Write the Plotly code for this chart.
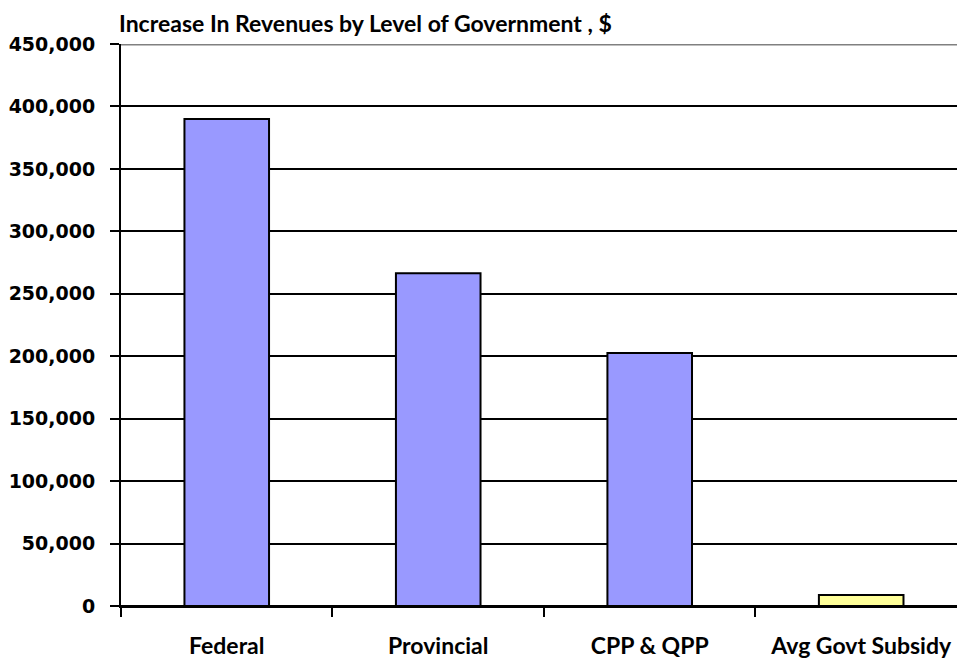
import plotly.graph_objects as go

categories = ["Federal", "Provincial", "CPP & QPP", "Avg Govt Subsidy"]
values = [390000, 266500, 202500, 8800]
colors = ["#9999FF", "#9999FF", "#9999FF", "#FFFF99"]
y_ticks = [0, 50000, 100000, 150000, 200000, 250000, 300000, 350000, 400000, 450000]
y_labels = ["{:,}".format(v) for v in y_ticks]
subtitle = "Increase In Revenues by Level of Government , $"

fig = go.Figure()
fig.add_trace(go.Bar(
    x=categories, y=values, width=0.4,
    marker=dict(color=colors, line=dict(color="black", width=2)),
))

narrow = "Lato, 'Open Sans', sans-serif"

fig.update_layout(
    width=957, height=659,
    margin=dict(l=121, r=0, t=44, b=53),
    paper_bgcolor="white", plot_bgcolor="white",
    showlegend=False,
    bargap=0.6,
    xaxis=dict(
        range=[-0.5, 3.453], showgrid=False, automargin=False, tickangle=0,
        ticks="outside", tickson="boundaries", ticklen=9, tickwidth=2, tickcolor="black",
        showline=True, linecolor="black", linewidth=2,
        tickfont=dict(family=narrow, size=23, color="black", weight="bold"),
        ticklabelstandoff=18,
    ),
    yaxis=dict(
        range=[0, 450000], tickvals=y_ticks, ticktext=y_labels, automargin=False,
        showgrid=True, gridcolor="black", gridwidth=2,
        zeroline=True, zerolinecolor="black", zerolinewidth=2,
        ticks="outside", ticklen=9, tickwidth=2, tickcolor="black",
        showline=True, linecolor="black", linewidth=2,
        tickfont=dict(family="'DejaVu Sans', Verdana, sans-serif", size=19, color="black", weight="bold"),
        ticklabelstandoff=11,
    ),
    shapes=[dict(type="line", xref="paper", yref="y", x0=0, x1=1, y0=450000, y1=450000,
                 line=dict(color="#808080", width=3))],
    annotations=[dict(text=subtitle, xref="paper", yref="paper", x=0, y=1, xanchor="left",
                      yanchor="bottom", yshift=5, xshift=-4, showarrow=False,
                      font=dict(family=narrow, size=23, color="black", weight="bold"))],
)

fig.write_html(
    "out.html",
    config={"displayModeBar": False},
    post_script="document.body.style.margin='0px';document.body.style.overflow='hidden';",
)
